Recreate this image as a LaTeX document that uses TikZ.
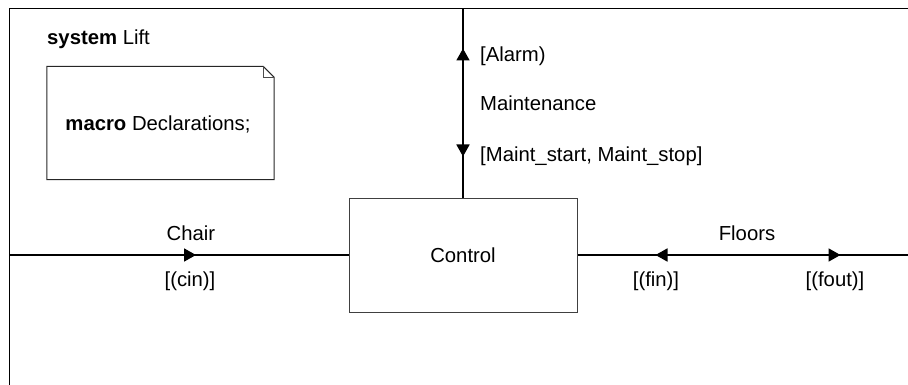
\documentclass[tikz,border=0pt]{standalone}
\usepackage{fontspec}
\setmainfont{Liberation Sans}
\usetikzlibrary{arrows.meta,decorations.markings}
\tikzset{
  lbl/.style={inner sep=0pt, font=\fontsize{20.3}{24}\selectfont},
  box/.style={draw=black!75, line width=1pt, rectangle, inner sep=0pt},
  conn/.style={line width=1.8pt},
}
\begin{document}
\begin{tikzpicture}[x=1pt,y=-1pt]
\useasboundingbox (0,0) rectangle (908,385);
% frame
\coordinate (fbl) at (9,385);
\coordinate (ftl) at (9,9);
\coordinate (ftr) at (908,9);
\draw[line width=1pt] (fbl) -- (ftl) -- (ftr);
\node[lbl, anchor=base west] (title) at (47,45) {\textbf{system} Lift};
% note
\node[inner sep=0pt, minimum width=227pt, minimum height=113pt] (note) at (160.5,123) {};
\draw[line width=1pt, black!85] (note.south west) -- (note.north west) -- ([xshift=-11pt]note.north east) -- ([yshift=-11pt]note.north east) -- (note.south east) -- cycle;
\draw[line width=1pt, black!70] ([xshift=-11pt]note.north east) -- ([xshift=-11pt,yshift=-11pt]note.north east) -- ([yshift=-11pt]note.north east);
\node[lbl, anchor=base] (decl) at (158,131) {\textbf{macro} Declarations;};
% control
\node[box, minimum width=228pt, minimum height=114pt] (control) at (463,255) {};
\node[lbl, anchor=base] (ctext) at (463,262) {Control};
% connectors
\coordinate (cl) at (9,255);
\coordinate (cr) at (908,255);
\coordinate (ct) at (463,9);
\draw[conn, postaction={decorate}, decoration={markings,
  mark=at position 187pt with {\arrow{Triangle[length=12pt,width=13pt]}}}]
  (cl) -- (control.west);
\draw[conn, postaction={decorate}, decoration={markings,
  mark=at position 78pt with {\arrowreversed{Triangle[length=12pt,width=13pt]}},
  mark=at position 263pt with {\arrow{Triangle[length=12pt,width=13pt]}}}]
  (control.east) -- (cr);
\draw[conn, postaction={decorate}, decoration={markings,
  mark=at position 41pt with {\arrowreversed{Triangle[length=12pt,width=13pt]}},
  mark=at position 149pt with {\arrow{Triangle[length=12pt,width=13pt]}}}]
  (control.north) -- (ct);
% labels
\node[lbl, anchor=base] (chair) at (191,240) {Chair};
\node[lbl, anchor=base] (cin) at (190,286) {[(cin)]};
\node[lbl, anchor=base] (floors) at (747,240) {Floors};
\node[lbl, anchor=base] (fin) at (656,286) {[(fin)]};
\node[lbl, anchor=base] (fout) at (835,286) {[(fout)]};
\node[lbl, anchor=base west] (alarm) at (480,62) {[Alarm)};
\node[lbl, anchor=base west] (maint) at (480,111) {Maintenance};
\node[lbl, anchor=base west] (mss) at (480,162) {[Maint\_start, Maint\_stop]};
\end{tikzpicture}
\end{document}
